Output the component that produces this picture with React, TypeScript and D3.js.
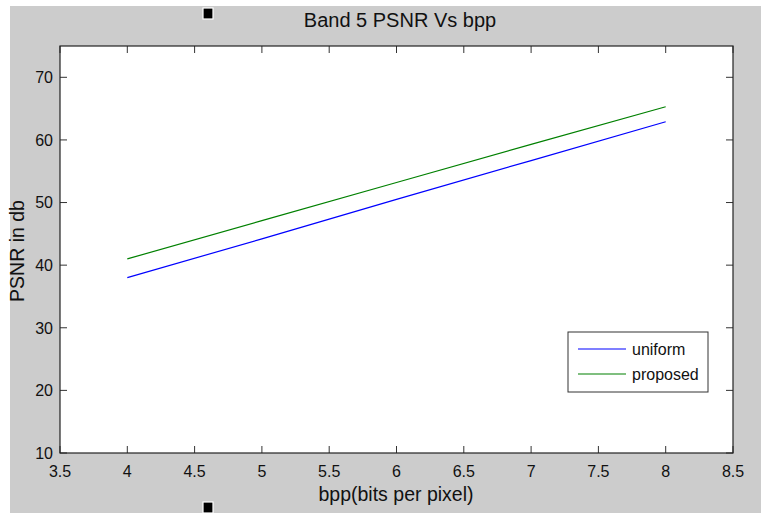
import React, { useEffect, useRef } from 'react';
import * as d3 from 'd3';

// bits per pixel
const bpp = [4, 5, 6, 7, 8];
// PSNR (db)
const uniform = [38.0, 44.2, 50.5, 56.7, 62.9];
const proposed = [41.0, 47.1, 53.2, 59.3, 65.3];
const xTicks = [3.5, 4, 4.5, 5, 5.5, 6, 6.5, 7, 7.5, 8, 8.5];
const yTicks = [10, 20, 30, 40, 50, 60, 70];
const seriesNames = ['uniform', 'proposed'];
const seriesColors = ['#0000ff', '#008000'];

export default function App() {
  const ref = useRef<SVGSVGElement>(null);

  useEffect(() => {
    const W = 761, H = 513;
    const margin = { top: 46, right: 28, bottom: 60, left: 60 };
    const width = W - margin.left - margin.right,
      height = H - margin.top - margin.bottom;

    const svg = d3.select(ref.current);
    svg.selectAll('*').remove();

    // figure background
    svg.append('rect').attr('width', W).attr('height', H).attr('fill', '#ffffff');
    svg.append('rect').attr('x', 10).attr('y', 6).attr('width', W - 10).attr('height', H - 6).attr('fill', '#cccccc');

    // the two little black markers
    [[203, 8, 10, 11], [203, 502, 10, 11]].forEach(([x, y, w, h]) => {
      svg.append('rect').attr('x', x).attr('y', y).attr('width', w).attr('height', h)
        .attr('fill', '#000').attr('stroke', '#fff').attr('stroke-width', 1.2);
    });

    const g = svg.append('g').attr('transform', `translate(${margin.left},${margin.top})`);

    g.append('rect').attr('width', width).attr('height', height).attr('fill', '#fff');

    const x = d3.scaleLinear().domain([3.5, 8.5]).range([0, width]);
    const y = d3.scaleLinear().domain([10, 75]).range([height, 0]);

    const font = '"Liberation Sans", Arial, sans-serif';
    const tickLen = 7;

    // ticks on all four sides (inside)
    const ticks = g.append('g').attr('stroke', '#333').attr('stroke-width', 1);
    xTicks.forEach(t => {
      ticks.append('line').attr('x1', x(t)).attr('x2', x(t)).attr('y1', height).attr('y2', height - tickLen);
      ticks.append('line').attr('x1', x(t)).attr('x2', x(t)).attr('y1', 0).attr('y2', tickLen);
    });
    yTicks.forEach(t => {
      ticks.append('line').attr('x1', 0).attr('x2', tickLen).attr('y1', y(t)).attr('y2', y(t));
      ticks.append('line').attr('x1', width).attr('x2', width - tickLen).attr('y1', y(t)).attr('y2', y(t));
    });

    g.selectAll('.xl').data(xTicks).enter().append('text')
      .attr('x', d => x(d)).attr('y', height + 24)
      .attr('text-anchor', 'middle')
      .style('font-family', font).style('font-size', '16px').attr('fill', '#111')
      .text(d => String(d));

    g.selectAll('.yl').data(yTicks).enter().append('text')
      .attr('x', -7).attr('y', d => y(d)).attr('dy', '0.36em')
      .attr('text-anchor', 'end')
      .style('font-family', font).style('font-size', '16px').attr('fill', '#111')
      .text(d => String(d));

    // lines
    const line = d3.line<number>().x((d, i) => x(bpp[i])).y(d => y(d));
    [uniform, proposed].forEach((s, i) => {
      g.append('path').datum(s).attr('d', line)
        .attr('fill', 'none').attr('stroke', seriesColors[i]).attr('stroke-width', 1.2);
    });

    // box
    g.append('rect').attr('width', width).attr('height', height)
      .attr('fill', 'none').attr('stroke', '#222').attr('stroke-width', 1.2);

    // legend
    const lg = svg.append('g').attr('transform', 'translate(568,332)');
    lg.append('rect').attr('width', 140).attr('height', 60).attr('fill', '#fff').attr('stroke', '#333').attr('stroke-width', 1);
    seriesNames.forEach((n, i) => {
      const yy = 17 + i * 25;
      lg.append('line').attr('x1', 10).attr('x2', 58).attr('y1', yy).attr('y2', yy)
        .attr('stroke', seriesColors[i]).attr('stroke-width', 1.2);
      lg.append('text').attr('x', 64).attr('y', yy).attr('dy', '0.36em')
        .style('font-family', font).style('font-size', '16px').attr('fill', '#111')
        .text(n);
    });

    // labels
    svg.append('text').attr('x', 400).attr('y', 27).attr('text-anchor', 'middle')
      .style('font-family', font).style('font-size', '20px').attr('fill', '#111')
      .text('Band 5 PSNR Vs bpp');
    svg.append('text').attr('x', 396).attr('y', 501).attr('text-anchor', 'middle')
      .style('font-family', font).style('font-size', '19.5px').attr('fill', '#111')
      .text('bpp(bits per pixel)');
    svg.append('text').attr('transform', 'translate(24,251) rotate(-90)').attr('text-anchor', 'middle')
      .style('font-family', font).style('font-size', '19.5px').attr('fill', '#111')
      .text('PSNR in db');
  }, []);

  return (
    <svg ref={ref} width={761} height={513}
      style={{ position: 'absolute', left: 0, top: 0, display: 'block' }} />
  );
}
